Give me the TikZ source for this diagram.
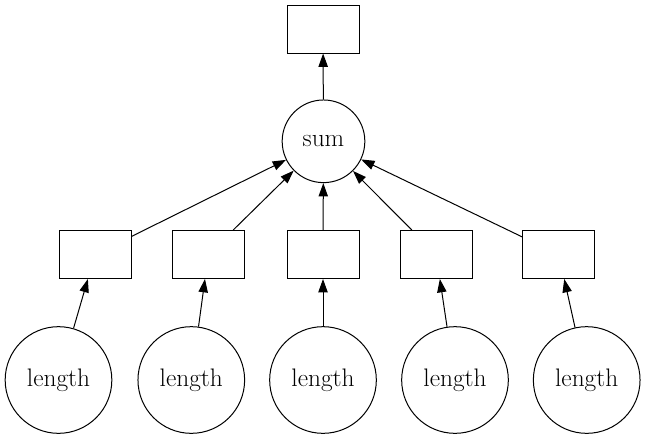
\documentclass[tikz,border=0pt]{standalone}
\usetikzlibrary{arrows.meta}
\begin{document}
\begin{tikzpicture}[x=0.75pt,y=-0.75pt,
  every node/.style={draw,line width=0.75pt,inner sep=0pt,font=\fontsize{19}{22}\selectfont},
  boxnode/.style={rectangle,minimum width=54pt,minimum height=36pt},
  sumnode/.style={circle,minimum size=62pt},
  lennode/.style={circle,minimum size=80pt},
  edge/.style={line width=0.75pt,-{Triangle[length=10pt,width=7pt]}}]
\useasboundingbox (0,0) rectangle (646,440);
\node[boxnode] (top) at (323,29) {};
\node[sumnode] (sum) at (323.5,141.3) {sum};
\node[boxnode] (b1) at (95,254.5) {};
\node[boxnode] (b2) at (208.3,254.5) {};
\node[boxnode] (b3) at (323,254.5) {};
\node[boxnode] (b4) at (436.2,254.5) {};
\node[boxnode] (b5) at (558.8,254.5) {};
\node[lennode] (l1) at (58.5,380) {length};
\node[lennode] (l2) at (191.3,380) {length};
\node[lennode] (l3) at (323,380) {length};
\node[lennode] (l4) at (455,380) {length};
\node[lennode] (l5) at (586.7,380) {length};
\draw[edge] (sum) -- (top);
\foreach \i in {1,...,5} {
  \draw[edge] (b\i) -- (sum);
  \draw[edge] (l\i) -- (b\i);
}
\end{tikzpicture}
\end{document}
